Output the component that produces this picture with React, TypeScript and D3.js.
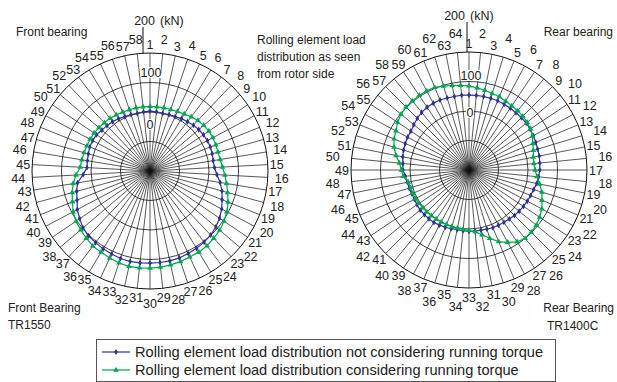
import React from 'react';
import * as d3 from 'd3';

// rolling element loads (kN), element 1 at the top, clockwise
const frontBlue = [3, 2, 0, 2, 3, 7, 10, 14, 17, 19, 20, 20, 19, 17, 19, 27, 41, 53, 63, 75, 85, 93, 99, 103, 106, 108, 111, 112, 112, 112, 113, 114, 113, 110, 108, 105, 103, 98, 88, 79, 66, 58, 49, 27, 14, 15, 17, 20, 20, 19, 14, 12, 10, 7, 3, 2, 0, 2];
const frontGreen = [19, 19, 19, 20, 22, 25, 31, 36, 39, 41, 41, 40, 39, 41, 46, 54, 63, 73, 85, 95, 103, 110, 114, 119, 121, 121, 124, 126, 128, 129, 130, 131, 129, 125, 121, 120, 114, 108, 103, 95, 83, 74, 64, 51, 37, 34, 32, 30, 30, 29, 27, 25, 24, 22, 20, 19, 19, 19];
const rearBlue = [54, 54, 54, 54, 54, 53, 52, 51, 51, 51, 49, 47, 45, 43, 43, 41, 40, 37, 34, 29, 26, 24, 22, 20, 18, 15, 13, 12, 12, 9, 8, 8, 8, 7, 6, 8, 10, 12, 14, 14, 14, 14, 12, 10, 10, 12, 13, 17, 24, 25, 29, 32, 34, 36, 37, 42, 48, 53, 56, 57, 57, 55, 54, 55];
const rearGreen = [85, 80, 75, 71, 69, 64, 61, 60, 58, 55, 51, 44, 34, 28, 22, 21, 24, 32, 44, 58, 68, 80, 88, 95, 98, 100, 93, 78, 63, 42, 24, 10, 5, 2, 1, 1, 0, 0, 0, 1, 2, 2, 4, 6, 7, 7, 10, 24, 29, 37, 52, 66, 75, 81, 91, 98, 102, 103, 104, 104, 103, 97, 92, 88];
const ringValues = [-100, 0, 100, 200];
const legendLabels = [
  'Rolling element load distribution not considering running torque',
  'Rolling element load distribution considering running torque',
];

const BLUE = '#2e3192';
const GREEN = '#00a651';
const FONT = '"Liberation Sans", Arial, Helvetica, sans-serif';
const R = 118;

interface PolarProps {
  cx: number;
  cy: number;
  blue: number[];
  green: number[];
  evenPad: number;
  axisDx: number;
  axisTop: number;
  kNy: number;
  kNx200: number;
  hundredDx: number;
  hundredY: number;
  zeroY: number;
}

const rScale = d3.scaleLinear().domain([-200, 200]).range([0, R]);
const triangle = d3.symbol().type(d3.symbolTriangle).size(14)();
const diamond = d3.symbol().type(d3.symbolDiamond).size(11)();

const Polar: React.FC<PolarProps> = ({ cx, cy, blue, green, evenPad, axisDx, axisTop, kNy, kNx200, hundredDx, hundredY, zeroY }) => {
  const n = blue.length;
  const angle = d3.scaleLinear().domain([0, n]).range([0, 2 * Math.PI]);
  const line = d3.lineRadial<number>()
    .angle((_, i) => angle(i))
    .radius(d => rScale(d))
    .curve(d3.curveLinearClosed);
  const idx = d3.range(n);

  return (
    <g transform={`translate(${cx},${cy})`}>
      {/* spokes */}
      {idx.map(i => {
        const [x, y] = d3.pointRadial(angle(i), R);
        return <line key={'s' + i} x1={0} y1={0} x2={x} y2={y} stroke="#111" strokeWidth={0.7} />;
      })}
      {/* rings */}
      {ringValues.map(v => (
        <circle key={'c' + v} r={rScale(v)} fill="none" stroke="#111" strokeWidth={v === 200 ? 1 : 0.8} />
      ))}
      {/* vertical axis above the circle */}
      <line x1={axisDx} x2={axisDx} y1={-R} y2={axisTop} stroke="#111" strokeWidth={1} />
      <text x={kNx200} y={kNy} fontSize={12.5} textAnchor="end" fill="#222">200</text>
      <text x={kNx200 + 5} y={kNy} fontSize={12.5} fill="#222">(kN)</text>
      <rect x={hundredDx - 10} y={hundredY - 10} width={20} height={11} fill="#fff" />
      <text x={hundredDx} y={hundredY} fontSize={12.5} textAnchor="middle" fill="#222">100</text>
      <rect x={-4 + hundredDx - 1} y={zeroY - 10} width={8} height={11} fill="#fff" />
      <text x={hundredDx - 1} y={zeroY} fontSize={12.5} textAnchor="middle" fill="#222">0</text>
      {/* element numbers */}
      {idx.map(i => {
        const lab = i + 1;
        const [x, y] = d3.pointRadial(angle(i), lab % 2 === 0 ? 127 + evenPad : 127);
        return (
          <text key={'l' + i} x={x} y={y} dy="0.36em" fontSize={12.5} textAnchor="middle" fill="#222">{lab}</text>
        );
      })}
      {/* series */}
      <path d={line(blue) || ''} fill="none" stroke={BLUE} strokeWidth={1.2} />
      {blue.map((v, i) => {
        const [x, y] = d3.pointRadial(angle(i), rScale(v));
        return <path key={'b' + i} d={diamond || ''} transform={`translate(${x},${y})`} fill={BLUE} />;
      })}
      <path d={line(green) || ''} fill="none" stroke={GREEN} strokeWidth={1.2} />
      {green.map((v, i) => {
        const [x, y] = d3.pointRadial(angle(i), rScale(v));
        return <path key={'g' + i} d={triangle || ''} transform={`translate(${x},${y})`} fill={GREEN} />;
      })}
    </g>
  );
};

const App: React.FC = () => {
  const legendColors = [BLUE, GREEN];
  const legendMarks = [diamond, triangle];
  return (
    <div style={{ position: 'absolute', left: 0, top: 0 }}>
      <svg width={617} height={382} style={{ display: 'block', fontFamily: FONT }}>
        <rect width={617} height={382} fill="#fff" />
        <Polar cx={150} cy={171} blue={frontBlue} green={frontGreen} evenPad={5}
          axisDx={-7} axisTop={-144} kNy={-146} kNx200={5} hundredDx={1} hundredY={-94} zeroY={-42} />
        <Polar cx={469} cy={170} blue={rearBlue} green={rearGreen} evenPad={10}
          axisDx={-2} axisTop={-148} kNy={-150} kNx200={-4} hundredDx={2} hundredY={-90} zeroY={-53} />

        <g fontSize={12} fill="#222">
          <text x={16} y={36}>Front bearing</text>
          <text x={257} y={44}>Rolling element load</text>
          <text x={257} y={61}>distribution as seen</text>
          <text x={257} y={78}>from rotor side</text>
          <text x={613} y={36} textAnchor="end">Rear bearing</text>
          <text x={8} y={312}>Front Bearing</text>
          <text x={8} y={329}>TR1550</text>
          <text x={614} y={312} textAnchor="end">Rear Bearing</text>
          <text x={547} y={330}>TR1400C</text>
        </g>

        <g>
          <rect x={96.5} y={339.5} width={459} height={42} fill="none" stroke="#555" strokeWidth={1} />
          {legendLabels.map((t, i) => {
            const y = 352 + i * 18;
            return (
              <g key={t}>
                <line x1={102} x2={130} y1={y} y2={y} stroke={legendColors[i]} strokeWidth={1.2} />
                <path d={legendMarks[i] || ''} transform={`translate(116,${y})`} fill={legendColors[i]} />
                <text x={135} y={y + 5} fontSize={14.6} fill="#222">{t}</text>
              </g>
            );
          })}
        </g>
      </svg>
    </div>
  );
};

export default App;
